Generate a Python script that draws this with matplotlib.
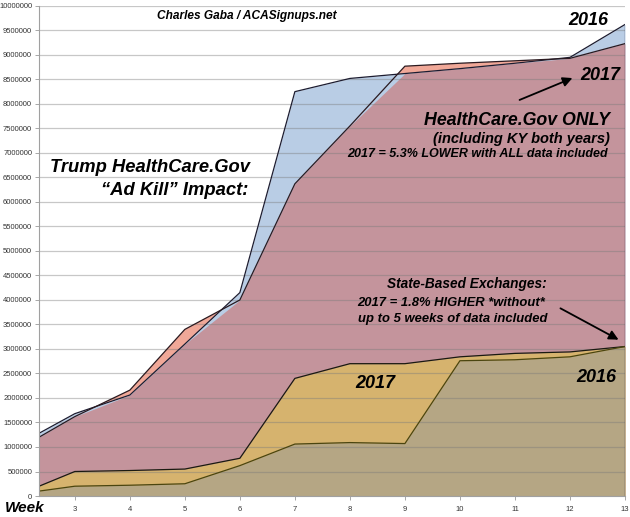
import matplotlib
matplotlib.use("Agg")
import matplotlib.pyplot as plt
import numpy as np

plt.rcParams['font.family'] = ['Liberation Sans', 'DejaVu Sans']

# week position of each report (first report lands part-way into week 2)
weeks = [2.35, 3, 4, 5, 6, 7, 8, 9, 10, 11, 12, 13]

# HealthCare.Gov cumulative signups
hc_2016 = [1280000, 1680000, 2060000, 3100000, 4150000, 8250000,
           8520000, 8620000, 8720000, 8830000, 8950000, 9620000]
hc_2017 = [1200000, 1620000, 2160000, 3400000, 4000000, 6370000,
           7550000, 8770000, 8830000, 8880000, 8930000, 9230000]

# State-Based Exchanges cumulative signups
sbe_2017 = [200000, 500000, 520000, 550000, 770000, 2400000,
            2700000, 2700000, 2840000, 2910000, 2940000, 3050000]
sbe_2016 = [100000, 200000, 220000, 250000, 620000, 1060000,
            1090000, 1070000, 2760000, 2780000, 2840000, 3050000]

week_ticks = [3, 4, 5, 6, 7, 8, 9, 10, 11, 12, 13]
y_ticks = np.arange(0, 10000001, 500000)

x = np.array(weeks)
b16 = np.array(hc_2016)
p17 = np.array(hc_2017)
g17 = np.array(sbe_2017)
t16 = np.array(sbe_2016)

W, H = 630, 517
fig = plt.figure(figsize=(6.3, 5.17), dpi=100)
ax = fig.add_axes([0.062, 0.0406, 0.930, 0.948])

# HealthCare.Gov areas
ax.fill_between(x, 0, b16, color='#b9cde5', lw=0, zorder=1)
ax.fill_between(x, 0, np.minimum(b16, p17), color='#c4949c', lw=0, zorder=1.1)
ax.fill_between(x, b16, p17, where=p17 > b16, interpolate=True,
                color='#f0a898', lw=0, zorder=1.1)

# State-based areas
ax.fill_between(x, 0, g17, color='#d6b36e', lw=0, zorder=1.3)
ax.fill_between(x, 0, t16, color='#b5a684', lw=0, zorder=1.4)

# gridlines show through the fills
for yv in y_ticks[1:]:
    ax.axhline(yv, color='#7a7a7a', alpha=0.42, lw=0.9, zorder=2)

# outlines
ax.plot(x, b16, color='#1c1c30', lw=0.9, zorder=3)
ax.plot(x, p17, color='#2a1a20', lw=0.9, zorder=3.1)
ax.plot(x, g17, color='#1a1a10', lw=0.9, zorder=3.2)
ax.plot(x, t16, color='#4a4510', lw=0.9, zorder=3.3)
ax.vlines(x[-1], 0, b16[-1], color='#1c1c30', lw=0.9, zorder=3)

ax.set_xlim(x[0], x[-1])
ax.set_ylim(0, 10000000)
ax.set_yticks(y_ticks)
ax.set_yticklabels([str(int(v)) for v in y_ticks], fontsize=5.5, color='#333333')
ax.set_xticks(week_ticks)
ax.set_xticklabels([str(w) for w in week_ticks], fontsize=5.5, color='#333333')
ax.tick_params(axis='y', length=3, width=0.6, color='#999999', pad=2)
ax.tick_params(axis='x', length=3, width=0.6, color='#999999', pad=4)

for s in ['top', 'right']:
    ax.spines[s].set_visible(False)
for s in ['left', 'bottom']:
    ax.spines[s].set_color('#a0a0a0')
    ax.spines[s].set_linewidth(0.8)
    ax.spines[s].set_zorder(4)

bi = dict(fontweight='bold', fontstyle='italic', color='black')


def ptext(px, py, s, size, ha='right', va='baseline'):
    fig.text(px / W, 1 - py / H, s, fontsize=size, ha=ha, va=va, **bi)


def parrow(p0, p1):
    ax.annotate('', xy=(p1[0] / W, 1 - p1[1] / H), xycoords='figure fraction',
                xytext=(p0[0] / W, 1 - p0[1] / H), textcoords='figure fraction',
                arrowprops=dict(arrowstyle='-|>', color='black', lw=1.3,
                                mutation_scale=14), zorder=6)


ptext(157, 19, 'Charles Gaba / ACASignups.net', 8.6, ha='left')
ptext(5, 512, 'Week', 11, ha='left')

ptext(250, 172, 'Trump HealthCare.Gov', 13.2)
ptext(248, 195, '\u201cAd Kill\u201d Impact:', 13.2)

ptext(608, 25, '2016', 13)
ptext(620, 80, '2017', 13)
parrow((517, 101), (575, 77))

ptext(610, 125, 'HealthCare.Gov ONLY', 12.8)
ptext(610, 143, '(including KY both years)', 10.5)
ptext(608, 157, '2017 = 5.3% LOWER with ALL data included', 9.0)

ptext(547, 288, 'State-Based Exchanges:', 9.8)
ptext(545, 306, '2017 = 1.8% HIGHER *without*', 9.4)
ptext(547, 322, 'up to 5 weeks of data included', 9.4)
parrow((558, 307), (621, 341))

ptext(375, 383, '2017', 13, ha='center', va='center')
ptext(596, 377, '2016', 13, ha='center', va='center')

fig.savefig('out.png', dpi=100)
